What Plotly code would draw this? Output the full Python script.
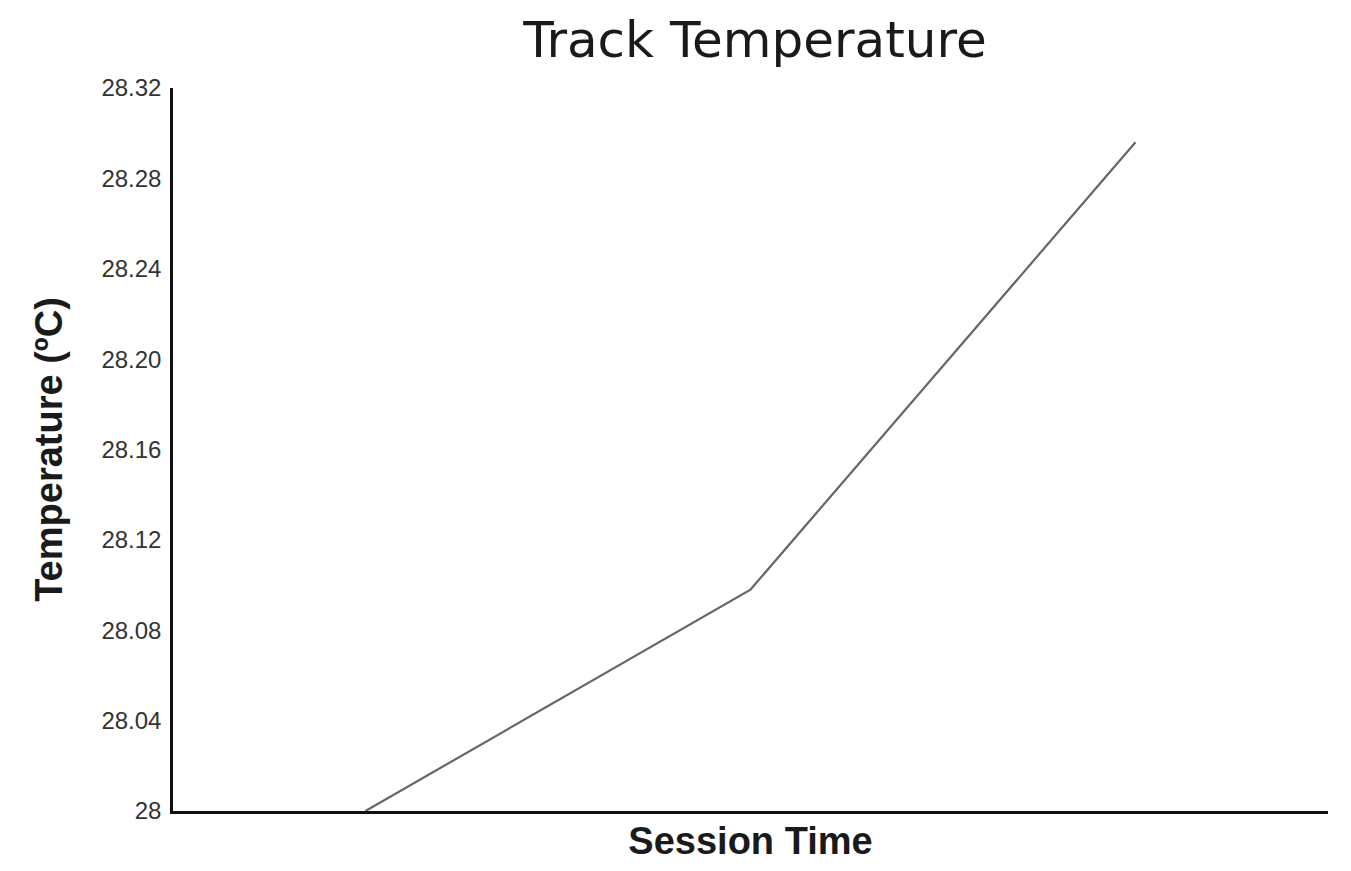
import plotly.graph_objects as go

session_time = [0.5, 1.5, 2.5]
temperature = [28.0, 28.098, 28.296]
tick_values = [28.0, 28.04, 28.08, 28.12, 28.16, 28.20, 28.24, 28.28, 28.32]
tick_labels = ["28", "28.04", "28.08", "28.12", "28.16", "28.20", "28.24", "28.28", "28.32"]

fig = go.Figure()
fig.add_trace(go.Scatter(
    x=session_time, y=temperature, mode="lines",
    line=dict(color="#666666", width=2.2), showlegend=False,
))

fig.update_layout(
    width=1335, height=855,
    margin=dict(l=165, r=15, t=80, b=52),
    paper_bgcolor="white", plot_bgcolor="white",
    title=dict(text="Track Temperature", x=0.5595, xanchor="center", y=0.9632, yanchor="middle",
               font=dict(family="DejaVu Sans", size=50, color="#1a1a1a")),
    xaxis=dict(range=[0, 3], showticklabels=False, ticks="", showgrid=False, zeroline=False,
               showline=True, linecolor="#111", linewidth=2.5, automargin=False,
               title=dict(text="<b>Session Time</b>", standoff=15,
                          font=dict(family="Liberation Sans", size=38, color="#1a1a1a"))),
    yaxis=dict(range=[28.0, 28.32], tickvals=tick_values, ticktext=tick_labels,
               showgrid=False, zeroline=False, ticks="", ticklen=0, ticklabelstandoff=4,
               showline=True, linecolor="#111", linewidth=2.5, automargin=False,
               tickfont=dict(family="Liberation Sans", size=24, color="#333"),
               title=dict(text="<b>Temperature (ºC)</b>", standoff=28,
                          font=dict(family="Liberation Sans", size=38, color="#1a1a1a"))),
)

fig.write_html("out.html")
